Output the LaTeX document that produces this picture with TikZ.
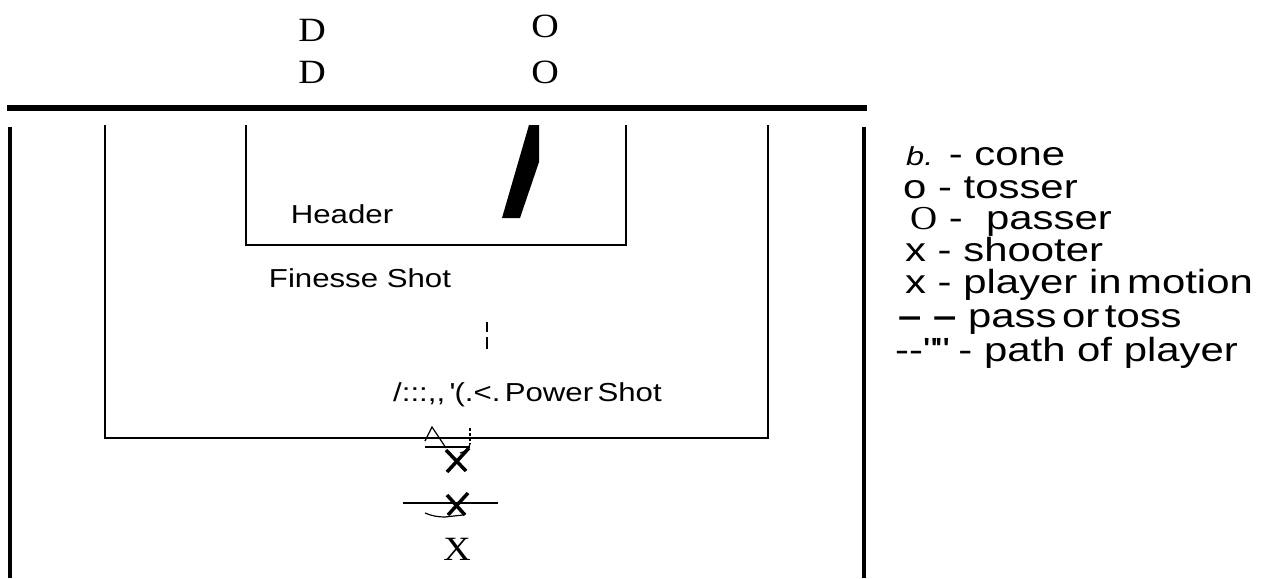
\documentclass[tikz,border=0pt]{standalone}
\usepackage{fontspec}
\newfontfamily\lsans{Liberation Sans}[FakeStretch=1.2]
\newfontfamily\lsansL{Liberation Sans}[FakeStretch=1.25]
\newfontfamily\lserif{Liberation Serif}[FakeStretch=1.12]
\begin{document}
\begin{tikzpicture}[x=1pt,y=-1pt,
  line/.style={line width=2pt},
  bold/.style={line width=3.5pt},
  serifmark/.style={font=\lserif\fontsize{34}{34}\selectfont, inner sep=0pt},
  boxlabel/.style={font=\lsans\fontsize{26}{26}\selectfont, inner sep=0pt},
  legend/.style={font=\lsansL\fontsize{33.5}{33.5}\selectfont, inner sep=0pt, anchor=base west},
  cross/.style={line width=3.5pt},
  thin/.style={line width=1.2pt}]
\useasboundingbox (0,0) rectangle (1271,578);
% field lines
\coordinate (tlL) at (7,108); \coordinate (tlR) at (867,108);
\draw[line width=6pt] (tlL) -- (tlR);
\coordinate (olT) at (10,127); \coordinate (olB) at (10,578);
\coordinate (orT) at (864,127); \coordinate (orB) at (864,578);
\draw[bold] (olT) -- (olB);
\draw[bold] (orT) -- (orB);
% penalty box
\coordinate (p1) at (105,125); \coordinate (p2) at (105,438);
\coordinate (p3) at (768,438); \coordinate (p4) at (768,125);
\draw[line] (p1) -- (p2) -- (p3) -- (p4);
% goal box
\coordinate (g1) at (246,125); \coordinate (g2) at (246,245);
\coordinate (g3) at (626,245); \coordinate (g4) at (626,125);
\draw[line] (g1) -- (g2) -- (g3) -- (g4);
% wedge
\fill (529,125) -- (539,125) -- (539,162) -- (520,218) -- (502,218) -- cycle;
% players above
\node[serifmark] (d1) at (312,30) {D};
\node[serifmark] (d2) at (312,72) {D};
\node[serifmark] (o1) at (545,26) {O};
\node[serifmark] (o2) at (545,72) {O};
% labels
\node[boxlabel] (header) at (342,214) {Header};
\node[boxlabel] (finesse) at (360,278) {Finesse\ Shot};
\node[boxlabel, anchor=base west] (power) at (393,401) {/:::,,\,\textquotesingle(.<.\,Power\,Shot};
% broken tick
\draw[thin] (487,322) -- (487,332);
\draw[thin] (487,337) -- (487,349);
% first X with arc
\draw[cross] (446,450) -- (466,471);
\draw[cross] (469,448) -- (447,472);
\draw[thin] (425,441) -- (432,427) -- (446,448);
\draw[thin] (425,447) -- (470,447);
\draw[thin, densely dashed] (470,428) -- (470,444);
\draw[thin] (470,444) .. controls (469,449) and (465,452) .. (460,453);
% second X
\draw[cross] (447,495) -- (465,515);
\draw[cross] (468,493) -- (448,515);
\draw[line] (403,503) -- (498,503);
\draw[thin] (425,513) .. controls (432,516) and (438,517) .. (445,517) -- (463,515);
\node[serifmark] (x3) at (457,549) {X};
% legend
\node[legend] (l1) at (906,165) {{\fontsize{26}{26}\selectfont\itshape b.}\upshape{} - cone};
\node[legend] (l2) at (903,198) {o - tosser};
\node[legend] (l3) at (910,229) {{\lserif O} - \ passer};
\node[legend] (l4) at (905,261) {x - shooter};
\node[legend] (l5) at (905,293) {x - player in\,motion};
\node[legend] (l6) at (898,327) {\textbf{–\ –} pass\,or\,toss};
\node[legend] (l7) at (895,361) {-{}-\textquotedbl\textquotedbl{} - path of player};
\end{tikzpicture}
\end{document}
